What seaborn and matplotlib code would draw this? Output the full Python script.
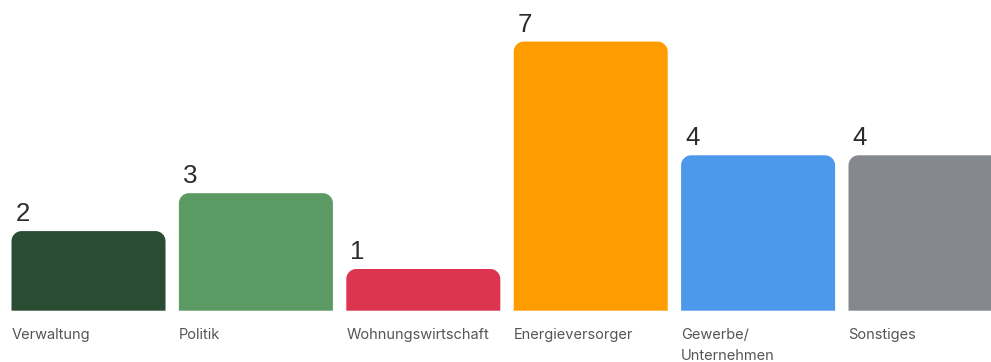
import matplotlib
matplotlib.use("Agg")
import matplotlib.pyplot as plt
from matplotlib.path import Path
from matplotlib.patches import PathPatch
import seaborn as sns
import pandas as pd

categories = ["Verwaltung", "Politik", "Wohnungswirtschaft",
              "Energieversorger", "Gewerbe/\nUnternehmen", "Sonstiges"]
values = [2, 3, 1, 7, 4, 4]
colors = ["#2a4c33", "#5c9a64", "#dd3550", "#ff9d00", "#4c98ea", "#86888f"]

df = pd.DataFrame({"kategorie": categories, "anzahl": values})

sns.set_theme(style="white")
plt.rcParams["font.family"] = ["Liberation Sans", "DejaVu Sans"]

fig = plt.figure(figsize=(9.91, 3.62), dpi=100)
ax = fig.add_axes([0, 0, 1, 1])

sns.barplot(data=df, x="kategorie", y="anzahl", hue="kategorie",
            palette=colors, width=0.92, saturation=1, legend=False, ax=ax)

px_x = 167.4  # pixels per category step
px_y = 37.9   # pixels per unit value
x0 = -0.46 - 11.5 / px_x
ax.set_xlim(x0, x0 + 991 / px_x)
y0 = -55.1 / px_y
ax.set_ylim(y0, y0 + 362 / px_y)
ax.axis("off")

r_px = 10
rx, ry = r_px / px_x, r_px / px_y
k = 0.5523
foot = 3.8 / px_y  # bars sit slightly below the zero line

# Replace each bar with a shape whose top corners are rounded
for patch in list(ax.patches):
    x, y = patch.get_x(), patch.get_y()
    w, h = patch.get_width(), patch.get_height()
    col = patch.get_facecolor()
    patch.set_visible(False)
    top = y + h
    bot = y - foot
    verts = [
        (x, bot), (x, top - ry),
        (x, top - ry + k * ry), (x + rx - k * rx, top), (x + rx, top),
        (x + w - rx, top),
        (x + w - rx + k * rx, top), (x + w, top - ry + k * ry), (x + w, top - ry),
        (x + w, bot), (x, bot),
    ]
    codes = [Path.MOVETO, Path.LINETO,
             Path.CURVE4, Path.CURVE4, Path.CURVE4,
             Path.LINETO,
             Path.CURVE4, Path.CURVE4, Path.CURVE4,
             Path.LINETO, Path.CLOSEPOLY]
    ax.add_patch(PathPatch(Path(verts, codes), facecolor=col, edgecolor="none"))

    ax.text(x + 4 / px_x, top + 10 / px_y, f"{h:g}", ha="left", va="baseline",
            fontsize=18.6, color="#2b2b2b", family=["Liberation Sans"])

# Category names under the bars, one baseline per line
base0 = y0 + (362 - 339.3) / px_y
line_step = 21 / px_y
for i, cat in enumerate(categories):
    for j, line in enumerate(cat.split("\n")):
        ax.text(i - 0.46, base0 - j * line_step, line, ha="left", va="baseline",
                fontsize=10.5, color="#555555", family=["Inter", "DejaVu Sans"])

fig.savefig("out.png", dpi=100)
